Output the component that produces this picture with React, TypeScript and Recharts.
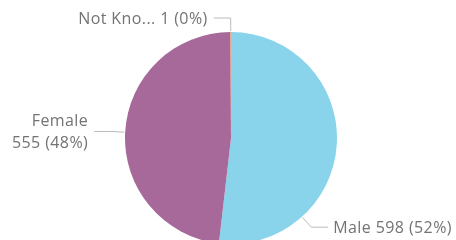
import { PieChart, Pie, Cell } from "recharts";

const categories = ["Male", "Female", "Not Known"];
const counts = [598, 555, 1];
const colors = ["#8AD4EB", "#A66999", "#FE9666"];

const data = categories.map((name, i) => ({ name, value: counts[i] }));

const RAD = Math.PI / 180;

// Male label is pushed down towards the bottom right like the original
const labelAngle: Record<string, number> = { Male: -48 };
const wrapped = ["Female"];

const shortName = (s: string) => (s.length > 7 ? s.slice(0, 7) + "..." : s);

function renderLabel(props: any) {
  const { cx, cy, outerRadius, midAngle, name, value, percent } = props;
  const a = (labelAngle[name] ?? midAngle) * RAD;
  const cos = Math.cos(a);
  const sin = -Math.sin(a);
  const x0 = cx + (outerRadius + 1) * cos;
  const y0 = cy + (outerRadius + 1) * sin;
  const x1 = cx + (outerRadius + 14) * cos;
  const y1 = cy + (outerRadius + 14) * sin;
  const right = cos > 0.01;
  const x2 = x1 + (right ? 17 : -17);
  const tx = x2 + (right ? 5 : -6);
  const amount = `${value} (${Math.round(percent * 100)}%)`;
  const anchor = right ? "start" : "end";
  const textStyle = { fontFamily: "Open Sans", fontSize: 16, letterSpacing: 0.4, fill: "#737373" };

  return (
    <g key={name}>
      <polyline
        points={`${x0},${y0} ${x1},${y1} ${x2},${y1}`}
        fill="none"
        stroke="#bbb"
        strokeWidth={1}
      />
      {wrapped.includes(name) ? (
        <text x={tx} y={y1} textAnchor={anchor} style={textStyle}>
          <tspan x={tx} dy={-5}>{shortName(name)}</tspan>
          <tspan x={tx} dy={22}>{amount}</tspan>
        </text>
      ) : (
        <text x={tx} y={y1} dy={6} textAnchor={anchor} style={textStyle}>
          {`${shortName(name)} ${amount}`}
        </text>
      )}
    </g>
  );
}

export default function App() {
  return (
    <div style={{ position: "fixed", left: 0, top: 0, width: 456, height: 240, overflow: "hidden" }}>
      <PieChart width={456} height={240} margin={{ top: 0, right: 0, bottom: 0, left: 0 }}>
        <Pie
          data={data}
          dataKey="value"
          nameKey="name"
          cx={231}
          cy={138}
          outerRadius={106}
          startAngle={90}
          endAngle={-270}
          stroke="none"
          label={renderLabel}
          labelLine={false}
          isAnimationActive={false}
        >
          {data.map((d, i) => (
            <Cell key={d.name} fill={colors[i]} />
          ))}
        </Pie>
      </PieChart>
    </div>
  );
}
